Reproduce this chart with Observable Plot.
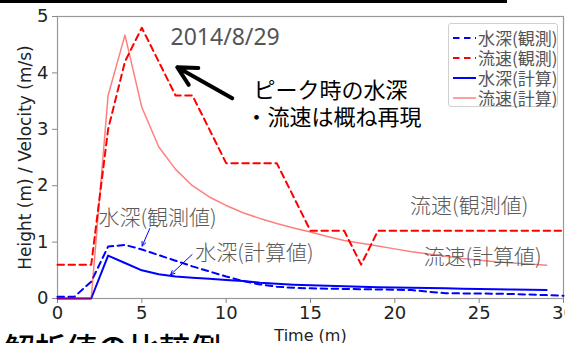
<!DOCTYPE html>
<html><head><meta charset="utf-8">
<script src="https://cdn.jsdelivr.net/npm/d3@7"></script>
<script src="https://cdn.jsdelivr.net/npm/@observablehq/plot@0.6"></script>
<style>
body{margin:0;background:#fff;}
#wrap{position:relative;width:565px;height:343px;overflow:hidden;background:#fff;}
#wrap svg{position:absolute;left:0;top:0;}
#topbar{position:absolute;left:0;top:0;width:507px;height:3px;background:#000;}
#caption{position:absolute;left:4px;top:331px;font:500 31px/31px "Noto Sans CJK JP";color:#000;white-space:nowrap;}
#legend{position:absolute;left:448px;top:23px;width:108px;height:82px;border:1px solid #d0d0d0;border-radius:3px;background:rgba(255,255,255,.85);font:17px/20px "Noto Sans CJK JP";color:#555;}
#legend .row{position:absolute;left:4px;height:20px;display:flex;align-items:center;white-space:nowrap;}
#legend svg{position:static;margin-right:2px;}
</style></head><body><div id="wrap"><div id="topbar"></div></div>
<script>
// ---- data ----
const obsDepthT = d3.range(0, 31);
const obsDepth = [0.03,0.03,0.3,0.92,0.95,0.87,0.77,0.67,0.57,0.48,0.39,0.31,0.25,0.21,0.19,0.18,0.175,0.17,0.165,0.16,0.155,0.15,0.12,0.095,0.09,0.09,0.085,0.08,0.07,0.06,0.05];
const obsVelT = [0,2,3,4,5,7,8,10,13,15,17,18,19,30];
const obsVel  = [0.6,0.6,3.0,4.2,4.8,3.6,3.6,2.4,2.4,1.2,1.2,0.6,1.2,1.2];
const calcT = d3.range(0, 30);
const calcDepth = [0,0,0,0.76,0.63,0.5,0.43,0.39,0.37,0.35,0.33,0.31,0.28,0.26,0.245,0.235,0.225,0.215,0.21,0.2,0.195,0.19,0.185,0.18,0.175,0.17,0.165,0.16,0.155,0.15];
const calcVel = [0,0,0,3.6,4.67,3.39,2.69,2.29,2.0,1.8,1.65,1.52,1.42,1.33,1.25,1.18,1.1,1.03,0.98,0.93,0.88,0.83,0.79,0.75,0.71,0.68,0.65,0.63,0.61,0.59];
const xTicks = [0,5,10,15,20,25,30];
const yTicks = [0,1,2,3,4,5];
const seriesNames = ["水深(観測)","流速(観測)","水深(計算)","流速(計算)"];
const titleText = "2014/8/29";
const noteLines = ["ピーク時の水深","・流速は概ね再現"];
const inlineLabels = ["水深(観測値)","水深(計算値)","流速(観測値)","流速(計算値)"];
const captionText = "解析値の比較例";

// ---- styles ----
const seriesStyle = [
  {stroke:"#0000ff", dash:"6.5,4.5", width:2, opacity:1},
  {stroke:"#ff0000", dash:"6.5,4.5", width:2, opacity:1},
  {stroke:"#0000ff", dash:null, width:2, opacity:1},
  {stroke:"#ff0000", dash:null, width:1.5, opacity:0.5}
];

const rows = (T, V) => T.map((t, i) => ({t, v: V[i]}));
const series = [rows(obsDepthT, obsDepth), rows(obsVelT, obsVel), rows(calcT, calcDepth), rows(calcT, calcVel)];

// annotation anchors (data units)
const titlePos = [{x:6.7, y:4.62, text:titleText}];
const notes = [{x:11.62, y:3.68, text:noteLines[0]},{x:11.14, y:3.21, text:noteLines[1]}];
const labels = [
  {x:2.43, y:1.43, text:inlineLabels[0]},
  {x:8.17, y:0.81, text:inlineLabels[1]},
  {x:20.9, y:1.63, text:inlineLabels[2]},
  {x:21.7, y:0.73, text:inlineLabels[3]}
];
const bigArrow = [{x1:10.36, y1:3.55, x2:7.1, y2:4.1}];
const smallArrows = [{x1:5.47, y1:1.24, x2:5.02, y2:0.93},{x1:7.98, y1:0.78, x2:6.7, y2:0.42}];

const cjk = "Noto Sans CJK JP";
const marks = [
  Plot.frame({stroke:"#999", strokeWidth:1.2}),
  Plot.axisX({ticks:xTicks, tickFormat:"d", tickSize:5, tickPadding:3, fontSize:18, stroke:"#888", fill:"#222",
              label:"Time (m)", labelAnchor:"center", labelArrow:"none"}),
  Plot.axisY({ticks:yTicks, tickFormat:"d", tickSize:5, tickPadding:4, fontSize:18, stroke:"#888", fill:"#222",
              label:"Height (m) / Velocity (m/s)", labelAnchor:"center", labelArrow:"none", labelOffset:39})
];
series.forEach((d, i) => {
  const s = seriesStyle[i];
  marks.push(Plot.line(d, {x:"t", y:"v", stroke:s.stroke, strokeWidth:s.width, strokeOpacity:s.opacity,
    strokeDasharray:s.dash || undefined}));
});
marks.push(
  Plot.text(titlePos, {x:"x", y:"y", text:"text", textAnchor:"start", lineAnchor:"middle", fontSize:23, fill:"#555", fontFamily:"Noto Sans"}),
  Plot.text(notes, {x:"x", y:"y", text:"text", textAnchor:"start", lineAnchor:"middle", fontSize:22, fill:"#000", fontFamily:cjk}),
  Plot.text(labels, {x:"x", y:"y", text:"text", textAnchor:"start", lineAnchor:"middle", fontSize:21, fill:"#5a5a5a", fontFamily:cjk, fontWeight:300}),
  Plot.arrow(bigArrow, {x1:"x1", y1:"y1", x2:"x2", y2:"y2", stroke:"#000", strokeWidth:4, headLength:16, headAngle:55, inset:0}),
  Plot.arrow(smallArrows, {x1:"x1", y1:"y1", x2:"x2", y2:"y2", stroke:"#0000ff", strokeWidth:1, headLength:7, headAngle:50, inset:0})
);

const chart = Plot.plot({
  width:565, height:343,
  marginLeft:57, marginRight:2, marginTop:16, marginBottom:45,
  x:{domain:[0,30]}, y:{domain:[0,5]},
  style:{fontFamily:"DejaVu Sans", fontSize:"16px", background:"#fff", overflow:"visible"},
  marks
});
const wrap = document.getElementById("wrap");
wrap.insertBefore(chart, wrap.firstChild);

// axis label font sizes
chart.querySelectorAll("g[aria-label='x-axis label'] text").forEach(t => t.setAttribute("font-size", 16));
chart.querySelectorAll("g[aria-label='y-axis label'] text").forEach(t => t.setAttribute("font-size", 17));

// legend
const leg = document.createElement("div");
leg.id = "legend";
seriesNames.forEach((name, i) => {
  const s = seriesStyle[i];
  const row = document.createElement("div");
  row.className = "row";
  row.style.top = (4 + i * 20) + "px";
  row.innerHTML = `<svg width="23" height="10"><line x1="0" x2="23" y1="5" y2="5" stroke="${s.stroke}" stroke-opacity="${s.opacity}" stroke-width="${s.width}" ${s.dash ? `stroke-dasharray="${s.dash}"` : ""}/></svg><span>${name}</span>`;
  leg.appendChild(row);
});
wrap.appendChild(leg);

const cap = document.createElement("div");
cap.id = "caption";
cap.textContent = captionText;
wrap.appendChild(cap);
</script></body></html>
